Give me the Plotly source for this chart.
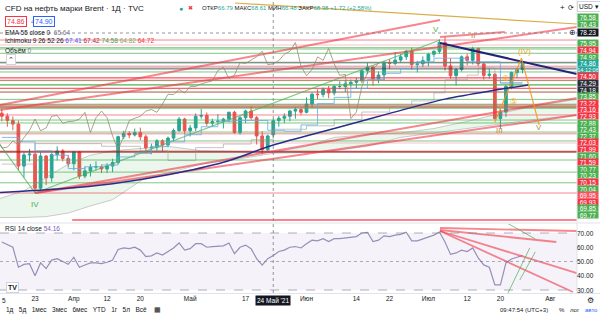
import plotly.graph_objects as go

# ---------------- data ----------------
opens = [69.22, 68.88, 68.39, 68.00, 63.28, 64.53, 64.62, 60.79, 64.41, 61.95,
         64.57, 64.98, 64.14, 63.54, 64.86, 62.15, 62.74, 63.16, 63.20, 62.95,
         63.28, 63.67, 66.58, 66.94, 66.77, 67.05, 66.57, 65.32, 65.40, 66.11,
         65.65, 66.42, 67.27, 68.56, 67.25, 67.56, 68.88, 68.96, 68.09, 68.28,
         68.32, 68.55, 69.32, 67.05, 68.71, 69.46, 68.71, 66.66, 65.11, 66.79,
         68.38, 68.65, 68.87, 69.46, 69.63, 69.32, 70.25, 71.35, 71.31, 71.89,
         71.49, 72.22, 72.22, 72.52, 72.69, 72.86, 73.99, 74.39, 73.08, 73.51,
         74.90, 74.81, 75.19, 75.56, 76.18, 74.68, 74.76, 75.13, 75.84, 76.17,
         77.16, 74.53, 73.43, 74.12, 75.55, 75.16, 76.49, 74.76, 73.47, 73.59,
         68.62, 69.35, 72.23, 73.79, 74.10]
highs = [69.75, 69.20, 68.85, 68.40, 64.80, 65.20, 64.80, 64.80, 64.50, 65.00,
         65.50, 65.20, 64.50, 64.95, 64.95, 63.20, 63.50, 63.80, 63.45, 63.60,
         64.10, 66.70, 67.25, 67.20, 67.50, 67.60, 66.80, 65.80, 66.30, 66.30,
         66.60, 67.50, 68.80, 68.70, 67.90, 69.20, 69.70, 69.30, 68.60, 69.10,
         68.70, 69.40, 69.50, 68.90, 69.60, 70.00, 68.90, 67.20, 66.80, 68.61,
         68.90, 69.20, 69.60, 69.90, 69.80, 71.00, 71.50, 71.90, 72.10, 72.30,
         72.40, 72.80, 72.90, 73.00, 73.20, 74.10, 74.90, 74.50, 73.90, 75.10,
         75.30, 76.10, 75.90, 76.30, 76.60, 75.10, 75.60, 76.00, 76.30, 77.50,
         77.84, 75.40, 74.30, 75.70, 75.90, 76.70, 76.60, 75.00, 74.20, 73.70,
         69.80, 72.40, 73.90, 74.30, 74.98]
lows = [68.30, 67.70, 67.30, 62.80, 62.00, 63.80, 60.27, 60.50, 61.15, 61.50,
        63.90, 63.80, 63.20, 62.80, 61.80, 61.90, 62.10, 62.80, 62.50, 62.50,
        62.60, 63.50, 66.30, 66.40, 66.60, 66.20, 64.80, 64.60, 65.00, 64.90,
        65.40, 66.10, 67.10, 66.90, 66.60, 67.20, 68.60, 67.80, 67.70, 68.00,
        67.50, 68.20, 66.90, 66.80, 68.10, 68.50, 65.70, 64.60, 64.90, 66.48,
        67.70, 68.10, 68.30, 68.60, 69.00, 69.20, 69.80, 70.80, 71.00, 70.90,
        71.20, 71.90, 71.60, 72.10, 72.00, 72.60, 73.60, 72.30, 72.60, 72.90,
        74.20, 74.60, 74.90, 75.20, 74.10, 73.80, 74.40, 74.50, 75.50, 75.90,
        74.00, 73.10, 72.30, 73.90, 74.60, 74.70, 74.50, 73.00, 73.10, 68.50,
        67.44, 68.80, 71.90, 73.20, 73.70]
closes = [68.88, 68.39, 68.00, 63.28, 64.53, 64.62, 60.79, 64.41, 61.95, 64.57,
          64.98, 64.14, 63.54, 64.86, 62.15, 62.74, 63.16, 63.20, 62.95, 63.28,
          63.67, 66.58, 66.94, 66.77, 67.05, 66.57, 65.32, 65.40, 66.11, 65.65,
          66.42, 67.27, 68.56, 67.25, 67.56, 68.88, 68.96, 68.09, 68.28, 68.32,
          68.55, 69.32, 67.05, 68.71, 69.46, 68.71, 66.66, 65.11, 66.66, 68.38,
          68.65, 68.87, 69.46, 69.63, 69.32, 70.25, 71.35, 71.31, 71.89, 71.49,
          72.22, 72.22, 72.52, 72.69, 72.86, 73.99, 74.39, 73.08, 73.51, 74.90,
          74.81, 75.19, 75.56, 76.18, 74.68, 74.76, 75.13, 75.84, 76.17, 77.16,
          74.53, 73.43, 74.12, 75.55, 75.16, 76.49, 74.76, 73.47, 73.59, 68.62,
          69.35, 72.23, 73.79, 74.10, 74.86]
rsi = [63.7, 62.0, 60.0, 46.0, 48.0, 48.5, 40.0, 49.0, 45.0, 51.0,
       52.0, 50.0, 48.0, 53.0, 46.0, 47.5, 49.0, 49.0, 48.5, 49.5,
       51.0, 58.5, 59.5, 59.0, 60.0, 58.0, 53.5, 54.0, 56.0, 54.5,
       57.0, 59.5, 63.0, 58.0, 59.0, 62.5, 62.5, 60.0, 60.5, 60.5,
       61.0, 63.0, 55.5, 60.0, 61.5, 59.0, 52.0, 47.5, 52.0, 54.2,
       57.0, 58.0, 60.0, 60.5, 59.5, 62.5, 65.0, 64.5, 66.0, 64.0,
       66.0, 66.0, 66.5, 67.0, 67.5, 70.0, 70.5, 64.0, 65.0, 68.0,
       67.5, 68.5, 69.0, 70.5, 64.5, 64.5, 66.0, 67.5, 68.5, 70.7,
       63.7, 55.0, 56.0, 58.0, 57.0, 59.5, 52.5, 47.6, 46.0, 33.6,
       33.6, 49.0, 51.8, 53.0, 54.2]

tick_idx = [6, 13, 19, 25, 34, 44, 55, 64, 70, 77, 84, 90, 99]
tick_text = ["23", "Апр", "12", "20", "Май", "17", "Июн", "14", "22",
             "Июл", "12", "20", "Авг"]

ema_idx = [-1, 10, 20, 30, 40, 49, 60, 70, 80, 90, 95]
ema_val = [60.3, 60.7, 61.3, 62.3, 63.7, 65.64, 67.5, 69.2, 70.8, 71.9, 72.4]

# Ichimoku
tenkan_idx = [0, 3, 6, 9, 12, 15, 18, 21, 24, 27, 30, 33, 36, 39, 42, 45, 48, 51, 54,
              57, 60, 63, 66, 69, 72, 75, 78, 81, 84, 87, 90, 94]
tenkan_val = [66.5, 66.0, 65.0, 64.5, 63.0, 63.2, 63.4, 64.3, 64.7, 65.5, 66.0, 66.8, 67.7,
              68.3, 68.4, 68.4, 67.3, 67.2, 67.9, 70.3, 71.0, 72.0, 73.0, 73.7, 74.2, 75.0,
              75.4, 75.4, 75.0, 75.0, 72.6, 72.6]
kijun_idx = [0, 6, 12, 18, 25, 30, 35, 40, 45, 49, 55, 60, 65, 70, 74, 78, 80, 84, 86, 89, 90, 94]
kijun_val = [63.5, 65.8, 65.8, 65.5, 65.0, 63.9, 65.35, 65.75, 66.25, 67.42, 67.8, 68.5, 69.35,
             69.95, 70.6, 71.5, 72.97, 73.5, 74.3, 73.2, 72.64, 72.64]
span_a_idx = [-1, 4, 8, 12, 16, 20, 26, 30, 36, 42, 49, 55, 60, 66, 72, 78, 84, 90, 96, 104]
span_a_val = [59.5, 60.5, 62.0, 63.5, 64.5, 65.0, 65.3, 65.5, 65.0, 64.9, 64.82, 65.5, 66.5,
              66.8, 67.0, 67.5, 68.3, 69.2, 70.0, 70.8]
span_b_val = [57.5, 57.5, 57.6, 58.0, 58.8, 59.5, 62.0, 62.5, 63.5, 64.0, 64.72, 64.8, 65.0,
              65.5, 66.5, 67.0, 67.5, 68.0, 68.5, 69.0]

# labelled horizontal levels (display order on the price scale)
level_vals = [76.58, 76.43, 75.95, 74.94, 74.92, 74.86, 74.50, 74.29, 74.18, 73.85,
              73.22, 73.16, 72.93, 72.88, 72.43, 72.37, 72.03, 71.99, 71.60, 71.59,
              70.77, 70.23, 70.15, 70.04, 69.95, 69.93, 69.85, 69.77]
level_kind = ["g", "g", "g", "r", "g", "cur", "r", "k", "k", "g",
              "r", "r", "r", "g", "g", "g", "r", "r", "g", "r",
              "g", "g", "r", "g", "s", "r", "g", "g"]
# unlabeled horizontal levels
extra_vals = [77.44, 76.88, 69.02, 68.45, 68.12, 67.10, 66.90, 66.10, 65.87, 64.90,
              63.96, 62.60, 61.40, 60.25]
extra_kind = ["r", "p", "r", "g", "g", "g", "r", "g", "p", "d",
              "g", "g", "g", "r"]

# trend lines: (bar0, price0, bar1, price1, kind)
trend_lines = [
    (42.1, 81.60, 103.8, 79.24, "gold"),
    (-0.3, 70.14, 79.1, 79.69, "r"),
    (-0.3, 69.58, 103.8, 78.90, "r"),
    (79.1, 77.78, 90.8, 78.34, "r"),
    (6.0, 60.25, 103.8, 70.93, "r"),
    (6.0, 60.25, 103.8, 69.02, "r"),
    (12.7, 57.22, 103.8, 57.22, "r"),
    (79.1, 77.11, 103.8, 73.62, "navy"),
    (-0.3, 65.65, 6.0, 60.25, "g"),
    (6.0, 60.25, 79.1, 77.44, "g"),
    (89.0, 68.2, 93.8, 75.4, "o"),
    (93.8, 75.4, 97.0, 67.9, "o"),
]
rsi_lines = [
    (79.1, 73.5, 103.8, 71.4, "r"),
    (79.1, 72.1, 100.1, 63.7, "r"),
    (79.1, 71.4, 103.8, 41.9, "r"),
    (79.1, 71.4, 103.1, 28.6, "r"),
    (91.2, 77.0, 96.3, 65.8, "g"),
    (91.2, 26.5, 95.3, 59.5, "g"),
    (93.5, 37.0, 96.3, 56.7, "g"),
]

crosshair_bar, crosshair_price = 49, 78.23

# ---------------- layout calibration ----------------
W, H = 600, 315
PLOT_R = 577
MAIN_BOTTOM = 222
RSI_TOP, RSI_BOTTOM = 224, 293
X0_PX, BAR_PX = 1.8, 5.54
P_REF, P_REF_PX, PX_PER_USD = 78.23, 33, 8.9
R_REF, R_REF_PX, PX_PER_RSI = 70, 233, 1.425

x_range = [(0 - X0_PX) / BAR_PX, (PLOT_R - X0_PX) / BAR_PX]
y_range = [P_REF - (MAIN_BOTTOM - P_REF_PX) / PX_PER_USD, P_REF + P_REF_PX / PX_PER_USD]
r_range = [R_REF - (RSI_BOTTOM - R_REF_PX) / PX_PER_RSI, R_REF + (R_REF_PX - RSI_TOP) / PX_PER_RSI]


def pxx(x):
    return x / W


def pxy(y):
    return 1 - y / H


COL = {"g": "rgba(76,175,80,0.7)", "r": "rgba(242,54,69,0.6)", "p": "rgba(233,120,150,0.45)",
       "k": "rgba(60,60,70,0.6)", "s": "rgba(247,82,95,0.6)", "cur": "rgba(38,166,154,0.7)",
       "d": "rgba(160,30,30,0.75)", "gold": "rgba(214,160,40,0.85)", "navy": "#23237a",
       "o": "rgba(245,150,30,0.9)"}
WIDTH = {"d": 2, "navy": 2}
LABEL_BG = {"g": "#4CAF50", "r": "#F23645", "k": "#2A2E39", "s": "#F7525F", "cur": "#22A699"}

fig = go.Figure()
n = len(closes)
bars = list(range(n))

# Ichimoku cloud
fig.add_trace(go.Scatter(x=span_a_idx, y=span_b_val, mode="lines",
                         line=dict(color="rgba(150,150,150,0.6)", width=0.8), hoverinfo="skip",
                         xaxis="x", yaxis="y"))
fig.add_trace(go.Scatter(x=span_a_idx, y=span_a_val, mode="lines", fill="tonexty",
                         fillcolor="rgba(76,175,80,0.11)",
                         line=dict(color="rgba(150,150,150,0.6)", width=0.8), hoverinfo="skip",
                         xaxis="x", yaxis="y"))

# horizontal levels grouped by colour
groups = {}
for v, k in list(zip(level_vals, level_kind)) + list(zip(extra_vals, extra_kind)):
    groups.setdefault(k, ([], []))
    groups[k][0].extend([x_range[0], x_range[1], None])
    groups[k][1].extend([v, v, None])
for k, (xs, ys) in groups.items():
    fig.add_trace(go.Scatter(x=xs, y=ys, mode="lines", line=dict(color=COL[k], width=WIDTH.get(k, 1)),
                             hoverinfo="skip", xaxis="x", yaxis="y"))

# trend lines
for b0, p0, b1, p1, k in trend_lines:
    fig.add_trace(go.Scatter(x=[b0, b1], y=[p0, p1], mode="lines",
                             line=dict(color=COL[k], width=2 if k in ("navy", "r") else 1.2),
                             hoverinfo="skip", xaxis="x", yaxis="y"))

# EMA 55
fig.add_trace(go.Scatter(x=ema_idx, y=ema_val, mode="lines",
                         line=dict(color="#2b2b8c", width=1.5, shape="spline"),
                         hoverinfo="skip", xaxis="x", yaxis="y"))
# Ichimoku lines
fig.add_trace(go.Scatter(x=kijun_idx, y=kijun_val, mode="lines",
                         line=dict(color="rgba(150,150,150,0.55)", width=1, shape="hv"),
                         hoverinfo="skip", xaxis="x", yaxis="y"))
fig.add_trace(go.Scatter(x=tenkan_idx, y=tenkan_val, mode="lines",
                         line=dict(color="rgba(100,170,230,0.8)", width=1, shape="hv"),
                         hoverinfo="skip", xaxis="x", yaxis="y"))
# lagging span (close shifted back 26 bars)
fig.add_trace(go.Scatter(x=[b - 26 for b in bars], y=closes, mode="lines",
                         line=dict(color="rgba(150,140,110,0.8)", width=1), hoverinfo="skip",
                         xaxis="x", yaxis="y"))

fig.add_trace(go.Candlestick(x=bars, open=opens, high=highs, low=lows, close=closes,
                             increasing=dict(line=dict(color="#26A69A", width=1), fillcolor="#26A69A"),
                             decreasing=dict(line=dict(color="#EF5350", width=1), fillcolor="#EF5350"),
                             whiskerwidth=0, hoverinfo="skip", xaxis="x", yaxis="y"))

# RSI pane
fig.add_trace(go.Scatter(x=bars, y=rsi, mode="lines", line=dict(color="#9590b8", width=1.2),
                         hoverinfo="skip", xaxis="x2", yaxis="y2"))
for b0, r0, b1, r1, k in rsi_lines:
    fig.add_trace(go.Scatter(x=[b0, b1], y=[r0, r1], mode="lines",
                             line=dict(color=COL[k], width=1.8 if k == "r" else 1),
                             hoverinfo="skip", xaxis="x2", yaxis="y2"))

shapes = [
    dict(type="rect", xref="x2", yref="y2", x0=x_range[0], x1=x_range[1], y0=30, y1=70,
         fillcolor="rgba(126,87,194,0.08)", line=dict(width=0), layer="below"),
]
for lv, dash in ((70, "dash"), (50, "dot"), (30, "dash")):
    shapes.append(dict(type="line", xref="x2", yref="y2", x0=x_range[0], x1=x_range[1], y0=lv, y1=lv,
                       line=dict(color="rgba(120,123,134,0.6)", width=1, dash=dash)))
shapes.append(dict(type="line", xref="paper", yref="paper", x0=0, x1=1, y0=pxy(223), y1=pxy(223),
                   line=dict(color="#E0E3EB", width=1)))
shapes.append(dict(type="line", xref="paper", yref="paper", x0=pxx(PLOT_R), x1=pxx(PLOT_R), y0=pxy(293), y1=1,
                   line=dict(color="#E0E3EB", width=1)))
shapes.append(dict(type="line", xref="paper", yref="paper", x0=0, x1=1, y0=pxy(293.5), y1=pxy(293.5),
                   line=dict(color="#E0E3EB", width=1)))
shapes.append(dict(type="line", xref="x", yref="paper", x0=crosshair_bar, x1=crosshair_bar, y0=pxy(293), y1=1,
                   line=dict(color="rgba(120,123,134,0.8)", width=1, dash="dot")))
shapes.append(dict(type="line", xref="paper", yref="y", x0=0, x1=pxx(PLOT_R), y0=crosshair_price,
                   y1=crosshair_price, line=dict(color="rgba(120,123,134,0.8)", width=1, dash="dot")))

ann = []


def text(x, y, s, size=7, color="#131722", xanchor="left", **kw):
    ann.append(dict(x=pxx(x), y=pxy(y), xref="paper", yref="paper", text=s, showarrow=False,
                    font=dict(size=size, color=color, family="Liberation Sans"),
                    xanchor=xanchor, yanchor="middle", **kw))


# header legend
text(3, 8, "CFD на нефть марки Brent · 1Д · TVC", size=8)
text(177, 8, "●", size=7, color="#26A69A")
text(186, 8, "✖", size=6, color="#F23645")
text(200, 8, "ОТКР<span style='color:#26A69A'>66.79</span> МАКС<span style='color:#26A69A'>68.61</span> "
             "МИН<span style='color:#26A69A'>66.48</span> ЗАКР<span style='color:#26A69A'>68.38 +1.72 (+2.58%)</span>",
     size=6, color="#131722")
text(5, 22, "74.86", size=7, color="#F23645", bordercolor="#F23645", borderwidth=1, borderpad=1, bgcolor="white")
text(29, 22, "4", size=6, color="#787B86")
text(33, 22, "74.90", size=7, color="#2962FF", bordercolor="#2962FF", borderwidth=1, borderpad=1, bgcolor="white")
text(3, 33, "EMA 55 close 0 <span style='color:#787B86'> 65.64</span>", size=6.5)
text(3, 41, "Ichimoku 9 26 52 26 <span style='color:#2962FF'>67.41</span> <span style='color:#B22833'>67.42</span> "
            "<span style='color:#43A047'>74.58</span> <span style='color:#8BA862'>64.82</span> "
            "<span style='color:#F23645'>64.72</span>", size=6.5)
text(3, 50, "Объём <span style='color:#787B86'>0</span>", size=6.5)
text(6, 59, "⌃", size=7, color="#131722", bordercolor="#D1D4DC", borderwidth=1, borderpad=1, bgcolor="white")

# top right buttons
text(562, 7, "+", size=8, color="#131722", xanchor="center")
text(571, 7, "⟳", size=7, color="#131722", xanchor="center")
text(589, 6, "USD ▾", size=6.5, color="#131722", xanchor="center", bordercolor="#D1D4DC",
     borderwidth=1, borderpad=1, bgcolor="white")

# price-scale labels, stacked
slot_top, slot_step = 17, 6.6
slot = 0
for v, k in zip(level_vals, level_kind):
    if slot in (2, 3):
        slot = 4
    y = slot_top + slot * slot_step
    text(588, y, f"{v:.2f}", size=6.5, color="white", xanchor="center", bgcolor=LABEL_BG.get(k, "#4CAF50"),
         width=20, height=6, borderpad=0)
    if k == "cur":
        slot += 1
        text(588, slot_top + slot * slot_step, "14:12:06", size=5.5, color="white", xanchor="center",
             bgcolor=LABEL_BG[k], width=20, height=6, borderpad=0)
    slot += 1
text(588, P_REF_PX, f"{crosshair_price:.2f}", size=6.5, color="white", xanchor="center",
     bgcolor="#131722", width=20, height=7, borderpad=0)
text(572, P_REF_PX, "⊕", size=8, color="#131722", xanchor="center")

# RSI axis labels
for lv in (70, 60, 50, 40, 30):
    text(596, R_REF_PX + (R_REF - lv) * PX_PER_RSI, f"{lv:.2f}", size=6.5, color="#131722", xanchor="right")
text(3, 228, "RSI 14 close <span style='color:#7E57C2'>54.16</span>", size=6.5)

# date crosshair label
text(273, 300, "24 Май '21", size=6.5, color="white", xanchor="center", bgcolor="#131722", borderpad=1)
text(0, 300, "5", size=6.5, color="#131722")

# bottom toolbar
text(4, 310, "1д&nbsp;&nbsp; 5д&nbsp;&nbsp; 1мес&nbsp;&nbsp; 3мес&nbsp;&nbsp; 6мес&nbsp;&nbsp; YTD&nbsp;&nbsp; 1г&nbsp;&nbsp; 5л&nbsp;&nbsp; Всё&nbsp;&nbsp;&nbsp; ▦",
     size=6.5, color="#131722")
text(498, 310, "09:47:54 (UTC+3)", size=6, color="#131722")
text(562, 310, "%", size=6, color="#131722", xanchor="center")
text(575, 310, "лог", size=6, color="#131722", xanchor="center")
text(591, 310, "авто", size=6, color="#2962FF", xanchor="center")
text(590, 300, "⚙", size=8, color="#131722", xanchor="center")
text(12, 287, "<b>TV</b>", size=7, color="#131722", xanchor="center", bgcolor="white",
     bordercolor="#D1D4DC", borderwidth=1, borderpad=1)

# wave labels in data coordinates
waves = [(78.4, 78.6, "V", "#4CAF50"), (6.0, 59.0, "IV", "#4CAF50"), (89.9, 67.3, "III", "#C8863A"),
         (97.0, 67.6, "V", "#C8863A"), (94.3, 76.2, "(IV)", "#F5A623"), (85.0, 77.9, "II", "#C8863A"),
         (91.0, 73.1, "④", "#F5A623"), (92.3, 70.5, "⑤", "#F5A623")]
for b, p, s, c in waves:
    ann.append(dict(x=b, y=p, xref="x", yref="y", text=s, showarrow=False,
                    font=dict(size=8, color=c, family="Liberation Sans")))

fig.update_layout(
    width=W, height=H, margin=dict(l=0, r=0, t=0, b=0),
    paper_bgcolor="white", plot_bgcolor="white", showlegend=False,
    xaxis=dict(domain=[0, pxx(PLOT_R)], range=x_range, showgrid=False, zeroline=False,
               showticklabels=False, rangeslider=dict(visible=False), anchor="y", fixedrange=True),
    yaxis=dict(domain=[pxy(MAIN_BOTTOM), 1], range=y_range, showgrid=False, zeroline=False,
               showticklabels=False, anchor="x"),
    xaxis2=dict(domain=[0, pxx(PLOT_R)], range=x_range, showgrid=False, zeroline=False,
                tickvals=tick_idx, ticktext=tick_text, ticks="", anchor="y2",
                tickfont=dict(size=6.5, color="#131722", family="Liberation Sans")),
    yaxis2=dict(domain=[pxy(RSI_BOTTOM), pxy(RSI_TOP)], range=r_range, showgrid=False,
                zeroline=False, showticklabels=False, anchor="x2"),
    shapes=shapes, annotations=ann,
)

fig.write_html("out.html")
